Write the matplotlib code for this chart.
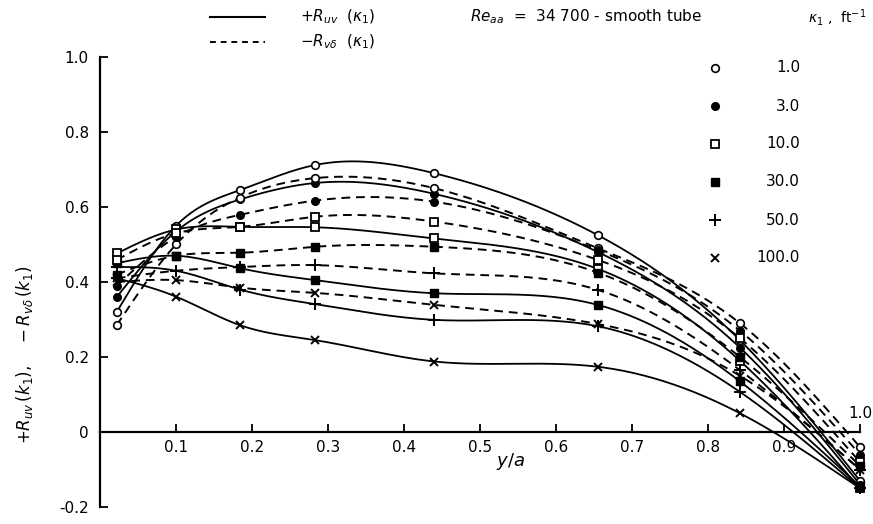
import numpy as np
import matplotlib
matplotlib.use("Agg")
import matplotlib.pyplot as plt
from matplotlib.lines import Line2D

# ---- data ----
y_over_a = [0.022, 0.10, 0.184, 0.283, 0.44, 0.655, 0.842, 1.0]
kappa_labels = ["1.0", "3.0", "10.0", "30.0", "50.0", "100.0"]

R_uv_k1 = [0.32, 0.55, 0.645, 0.712, 0.690, 0.525, 0.245, -0.13]
R_uv_k3 = [0.36, 0.535, 0.62, 0.664, 0.635, 0.48, 0.225, -0.14]
R_uv_k10 = [0.476, 0.54, 0.547, 0.546, 0.516, 0.435, 0.19, -0.15]
R_uv_k30 = [0.45, 0.47, 0.437, 0.405, 0.370, 0.339, 0.135, -0.145]
R_uv_k50 = [0.44, 0.43, 0.38, 0.341, 0.299, 0.282, 0.107, -0.15]
R_uv_k100 = [0.41, 0.361, 0.285, 0.245, 0.188, 0.174, 0.05, -0.15]

R_vd_k1 = [0.285, 0.50, 0.625, 0.677, 0.650, 0.49, 0.29, -0.04]
R_vd_k3 = [0.39, 0.52, 0.579, 0.617, 0.614, 0.485, 0.27, -0.06]
R_vd_k10 = [0.459, 0.53, 0.547, 0.574, 0.561, 0.459, 0.25, -0.08]
R_vd_k30 = [0.42, 0.47, 0.478, 0.494, 0.494, 0.425, 0.20, -0.09]
R_vd_k50 = [0.41, 0.43, 0.44, 0.445, 0.423, 0.379, 0.165, -0.10]
R_vd_k100 = [0.40, 0.405, 0.385, 0.371, 0.339, 0.288, 0.15, -0.10]

solid_series = [R_uv_k1, R_uv_k3, R_uv_k10, R_uv_k30, R_uv_k50, R_uv_k100]
dashed_series = [R_vd_k1, R_vd_k3, R_vd_k10, R_vd_k30, R_vd_k50, R_vd_k100]

marker_styles = [
    dict(marker="o", mfc="white", mec="black", ms=5.5, mew=1.2),
    dict(marker="o", mfc="black", mec="black", ms=5.5, mew=1.0),
    dict(marker="s", mfc="white", mec="black", ms=5.5, mew=1.3),
    dict(marker="s", mfc="black", mec="black", ms=5.5, mew=1.0),
    dict(marker="+", mfc="black", mec="black", ms=8, mew=1.4),
    dict(marker="x", mfc="black", mec="black", ms=6, mew=1.4),
]


def natural_spline(x, y, n=300):
    x = np.asarray(x, float)
    y = np.asarray(y, float)
    m = len(x)
    h = np.diff(x)
    A = np.zeros((m, m))
    b = np.zeros(m)
    A[0, 0] = 1
    A[-1, -1] = 1
    for i in range(1, m - 1):
        A[i, i - 1] = h[i - 1]
        A[i, i] = 2 * (h[i - 1] + h[i])
        A[i, i + 1] = h[i]
        b[i] = 3 * ((y[i + 1] - y[i]) / h[i] - (y[i] - y[i - 1]) / h[i - 1])
    c = np.linalg.solve(A, b)
    xs = np.linspace(x[0], x[-1], n)
    ys = np.empty_like(xs)
    for j, xv in enumerate(xs):
        i = min(np.searchsorted(x, xv, side="right") - 1, m - 2)
        dx = xv - x[i]
        bi = (y[i + 1] - y[i]) / h[i] - h[i] * (2 * c[i] + c[i + 1]) / 3
        di = (c[i + 1] - c[i]) / (3 * h[i])
        ys[j] = y[i] + bi * dx + c[i] * dx ** 2 + di * dx ** 3
    return xs, ys


fig = plt.figure(figsize=(8.73, 5.24), dpi=100)
ax = fig.add_axes([100 / 873, 17 / 524, 760 / 873, 450 / 524])
ax.set_xlim(0, 1.0)
ax.set_ylim(-0.2, 1.0)

for vals, ms in zip(solid_series, marker_styles):
    xs, ys = natural_spline(y_over_a, vals)
    ax.plot(xs, ys, color="black", lw=1.3, solid_capstyle="round", clip_on=False, zorder=2)
    ax.plot(y_over_a, vals, ls="none", clip_on=False, zorder=3, **ms)

for vals, ms in zip(dashed_series, marker_styles):
    xs, ys = natural_spline(y_over_a, vals)
    ax.plot(xs, ys, color="black", lw=1.4, dashes=(4.5, 3), clip_on=False, zorder=2)
    ax.plot(y_over_a, vals, ls="none", clip_on=False, zorder=3, **ms)

# axes styling
for s in ["top", "right"]:
    ax.spines[s].set_visible(False)
ax.spines["bottom"].set_position(("data", 0))
ax.spines["bottom"].set_linewidth(1.6)
ax.spines["left"].set_linewidth(1.6)
ax.set_xticks([0.1, 0.2, 0.3, 0.4, 0.5, 0.6, 0.7, 0.8, 0.9, 1.0])
ax.set_xticklabels(["0.1", "0.2", "0.3", "0.4", "0.5", "0.6", "0.7", "0.8", "0.9", ""])
ax.set_yticks([-0.2, 0, 0.2, 0.4, 0.6, 0.8, 1.0])
ax.set_yticklabels(["-0.2", "0", "0.2", "0.4", "0.6", "0.8", "1.0"])
ax.tick_params(axis="both", direction="in", length=6, width=1.3, labelsize=11)
ax.tick_params(axis="x", pad=6)
ax.tick_params(axis="y", pad=8)
ax.text(1.0, 0.03, "1.0", ha="center", va="bottom", fontsize=11)
ax.text(0.54, -0.078, "$y/a$", ha="center", va="center", fontsize=13)

fig.text(25 / 873, 1 - 355 / 524,
         r"$+R_{uv}\,(k_1),\quad -R_{v\delta}\,(k_1)$",
         rotation=90, ha="center", va="center", fontsize=12)

# top legend
fig.add_artist(Line2D([210 / 873, 265 / 873], [1 - 17 / 524] * 2, color="black", lw=1.5))
fig.add_artist(Line2D([210 / 873, 265 / 873], [1 - 42 / 524] * 2, color="black", lw=1.4, dashes=(3, 2.5)))
fig.text(300 / 873, 1 - 17 / 524, r"$+R_{uv}\ \ (\kappa_1)$", ha="left", va="center", fontsize=11)
fig.text(300 / 873, 1 - 42 / 524, r"$-R_{v\delta}\ \ (\kappa_1)$", ha="left", va="center", fontsize=11)
fig.text(470 / 873, 1 - 17 / 524, r"$Re_{aa}$  =  34 700 - smooth tube", ha="left", va="center", fontsize=11)
fig.text(866 / 873, 1 - 17 / 524, r"$\kappa_1$ ,  ft$^{-1}$", ha="right", va="center", fontsize=10)

# marker key
key_y = [0.971, 0.869, 0.768, 0.667, 0.565, 0.464]
for ms, lab, ky in zip(marker_styles, kappa_labels, key_y):
    ax.plot([0.809], [ky], ls="none", **ms)
    ax.text(0.921, ky, lab, ha="right", va="center", fontsize=11)

fig.savefig("out.png", dpi=100)
